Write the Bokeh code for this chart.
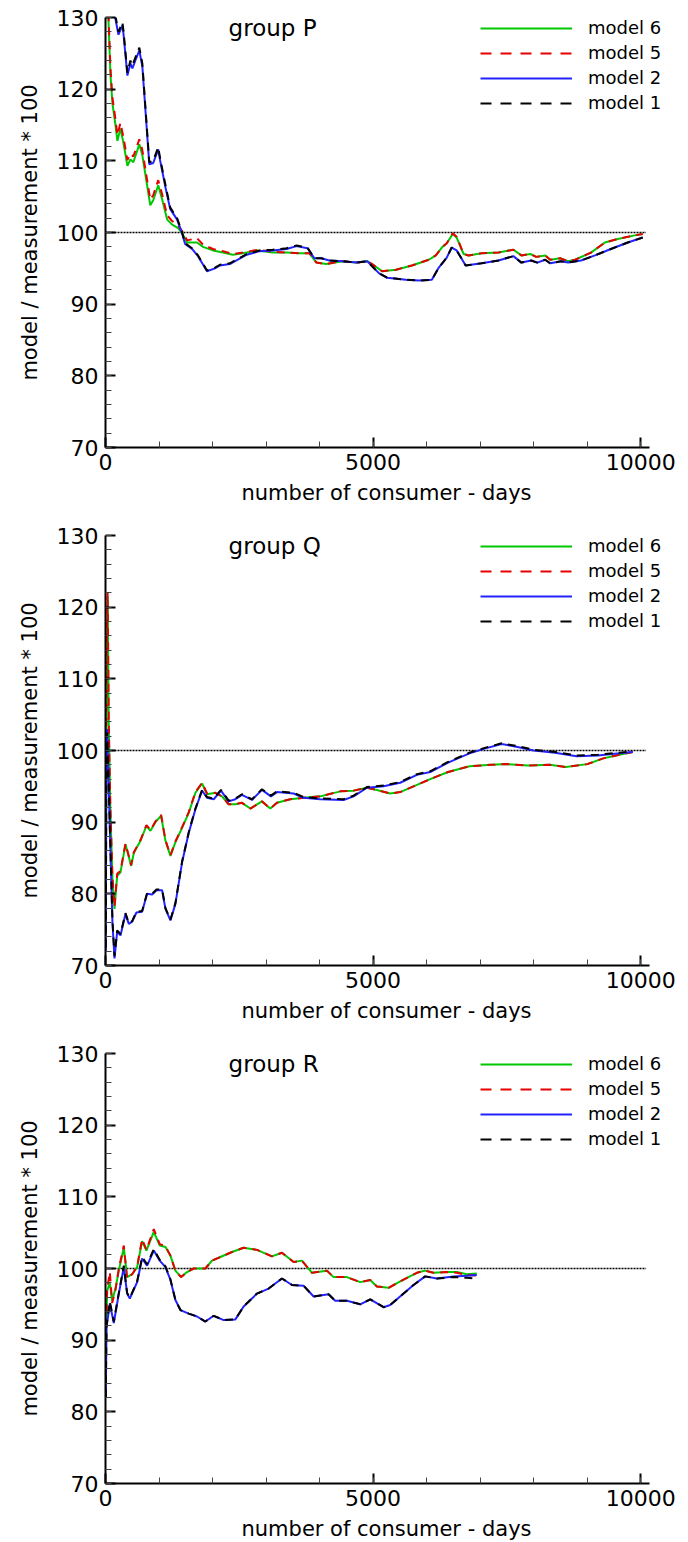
from bokeh.plotting import figure
from bokeh.models import Range1d, Legend, LegendItem, FixedTicker, Label
from bokeh.layouts import column
from bokeh.embed import file_html
from bokeh.resources import INLINE

# ---------------- data ----------------
LEGEND_LABELS = ["model 6", "model 5", "model 2", "model 1"]
GROUPS = ["group P", "group Q", "group R"]
X_TICKS = [0, 5000, 10000]
Y_TICKS = [70, 80, 90, 100, 110, 120, 130]
REF_X = [0, 10100]
REF_Y = [100, 100]

# group P
P_X56 = [20, 56, 93, 130, 186, 223, 279, 335, 409, 465, 520, 632, 688, 836, 892, 985,
         1059, 1152, 1245, 1357, 1431, 1524, 1710, 1822, 2007, 2193, 2379, 2565, 2844,
         3123, 3383, 3625, 3810, 3940, 4126, 4424, 4684, 4888, 5019, 5167, 5427, 5725,
         6041, 6171, 6283, 6376, 6487, 6561, 6691, 6784, 7026, 7342, 7621, 7770, 7937,
         8048, 8215, 8309, 8494, 8643, 8773, 9070, 9331, 9572, 9888, 10037]
P_M6 = [134.0, 129.5, 122.0, 118.0, 115.0, 112.8, 114.5, 112.5, 109.3, 110.2, 109.8, 112.3,
        110.8, 103.8, 104.5, 106.6, 104.6, 101.8, 101.1, 100.6, 99.9, 98.6, 98.6, 98.0,
        97.5, 97.2, 96.9, 97.1, 97.5, 97.2, 97.2, 97.1, 97.1, 95.8, 95.6, 96.0, 95.8, 96.0,
        95.4, 94.6, 94.8, 95.4, 96.2, 96.8, 97.9, 98.5, 99.8, 99.3, 97.0, 96.8, 97.1, 97.2,
        97.6, 96.8, 97.0, 96.6, 96.8, 96.2, 96.4, 96.0, 96.2, 97.2, 98.6, 99.1, 99.6, 99.8]
P_M5 = [134.5, 130.3, 122.8, 118.8, 115.8, 113.6, 115.3, 113.3, 110.1, 111.0, 110.6, 113.0,
        111.5, 104.6, 105.2, 107.3, 105.3, 102.4, 101.6, 101.0, 100.2, 98.9, 99.2, 98.3,
        97.7, 97.4, 97.0, 97.2, 97.6, 97.3, 97.2, 97.1, 97.1, 95.8, 95.6, 96.0, 95.8, 96.0,
        95.4, 94.6, 94.8, 95.4, 96.2, 96.8, 97.9, 98.5, 99.9, 99.4, 97.0, 96.8, 97.1, 97.2,
        97.6, 96.8, 97.0, 96.6, 96.8, 96.2, 96.4, 96.0, 96.2, 97.2, 98.6, 99.1, 99.6, 99.8]
P_X12 = [20, 100, 186, 242, 316, 335, 409, 465, 502, 558, 632, 688, 818, 892, 985, 1022,
         1115, 1208, 1338, 1431, 1487, 1617, 1729, 1896, 2045, 2138, 2323, 2472, 2639,
         2881, 3123, 3383, 3569, 3773, 3903, 4033, 4182, 4424, 4684, 4888, 5112, 5260,
         5613, 5855, 6097, 6227, 6376, 6468, 6561, 6729, 7026, 7342, 7621, 7770, 7955,
         8067, 8215, 8309, 8513, 8643, 8885, 9145, 9442, 9758, 10037]
P_M2 = [135.5, 131.5, 129.8, 127.6, 128.9, 127.8, 121.9, 123.6, 122.9, 124.0, 125.4, 123.2,
        109.5, 109.7, 111.6, 110.0, 106.5, 103.3, 101.8, 99.9, 98.4, 97.7, 96.7, 94.6,
        95.0, 95.4, 95.6, 96.2, 96.9, 97.4, 97.5, 97.7, 98.1, 97.8, 96.4, 96.4, 96.1, 96.0,
        95.8, 96.0, 94.3, 93.7, 93.4, 93.3, 93.4, 95.1, 96.5, 97.9, 97.5, 95.4, 95.7, 96.1,
        96.7, 95.8, 96.1, 95.8, 96.2, 95.7, 96.0, 95.8, 96.1, 96.8, 97.7, 98.6, 99.3]
P_M1 = [136.0, 132.0, 130.2, 128.0, 129.3, 128.2, 122.3, 124.0, 123.3, 124.4, 125.8, 123.6,
        109.8, 110.0, 111.9, 110.3, 106.8, 103.5, 102.0, 100.0, 98.5, 97.8, 96.8, 94.7,
        95.1, 95.5, 95.7, 96.3, 97.0, 97.5, 97.6, 97.8, 98.2, 97.9, 96.4, 96.4, 96.1, 96.0,
        95.8, 96.0, 94.3, 93.7, 93.4, 93.3, 93.4, 95.1, 96.5, 97.9, 97.5, 95.4, 95.7, 96.1,
        96.7, 95.8, 96.1, 95.8, 96.2, 95.7, 96.0, 95.8, 96.1, 96.8, 97.7, 98.6, 99.3]

# group Q
Q_X56 = [5, 20, 40, 60, 90, 130, 168, 218, 280, 373, 417, 479, 529, 653, 765, 840, 933,
         1039, 1120, 1213, 1306, 1431, 1555, 1680, 1804, 1897, 2053, 2177, 2301, 2426,
         2550, 2706, 2923, 3079, 3203, 3452, 3701, 4012, 4386, 4635, 4884, 5070, 5319,
         5506, 5755, 6066, 6400, 6800, 7200, 7500, 7900, 8300, 8600, 9000, 9300, 9600, 9850]
Q_M6 = [80.0, 112.0, 121.5, 104.0, 92.0, 82.0, 77.9, 82.5, 83.0, 86.9, 85.7, 83.9, 85.7,
        87.4, 89.5, 88.8, 90.0, 90.9, 87.4, 85.3, 87.2, 89.2, 91.3, 94.1, 95.4, 93.9, 94.1,
        93.6, 92.5, 92.5, 92.7, 91.9, 92.9, 91.9, 92.7, 93.2, 93.4, 93.6, 94.3, 94.4, 94.8,
        94.5, 94.0, 94.2, 95.0, 96.0, 97.0, 97.8, 98.0, 98.1, 97.9, 98.0, 97.7, 98.1, 98.9,
        99.4, 99.8]
Q_M5 = [80.0, 112.5, 122.0, 104.5, 92.3, 82.3, 78.2, 82.8, 83.2, 87.0, 85.8, 84.0, 85.8,
        87.5, 89.6, 88.9, 90.1, 91.0, 87.5, 85.4, 87.3, 89.3, 91.4, 94.2, 95.5, 94.0, 94.1,
        93.6, 92.5, 92.5, 92.7, 91.9, 92.9, 91.9, 92.7, 93.2, 93.4, 93.6, 94.3, 94.4, 94.8,
        94.5, 94.0, 94.2, 95.0, 96.0, 97.0, 97.8, 98.0, 98.1, 97.9, 98.0, 97.7, 98.1, 98.9,
        99.4, 99.8]
Q_X12 = [5, 15, 31, 60, 93, 130, 168, 218, 280, 373, 436, 498, 578, 684, 777, 871, 952,
         1058, 1120, 1213, 1306, 1431, 1555, 1680, 1804, 1897, 2022, 2158, 2301, 2426,
         2550, 2737, 2923, 3091, 3203, 3515, 3701, 4012, 4448, 4635, 4884, 5195, 5506,
         5817, 6066, 6400, 6800, 7100, 7400, 7700, 8000, 8400, 8800, 9200, 9600, 9850]
Q_M2 = [72.0, 95.0, 103.0, 95.0, 85.7, 76.0, 71.0, 74.7, 74.2, 77.2, 75.8, 76.1, 77.4,
        77.5, 80.0, 79.9, 80.5, 80.5, 77.9, 76.3, 78.6, 84.4, 88.5, 91.8, 94.4, 93.4, 93.2,
        94.4, 92.9, 93.2, 93.8, 93.1, 94.5, 93.6, 94.2, 94.0, 93.4, 93.2, 93.1, 93.6, 94.8,
        95.0, 95.5, 96.6, 97.0, 98.3, 99.6, 100.3, 100.9, 100.5, 100.0, 99.7, 99.2, 99.3,
        99.6, 99.8]
Q_M1 = [72.5, 95.5, 102.5, 95.3, 86.0, 76.3, 71.3, 74.9, 74.4, 77.3, 75.9, 76.2, 77.5,
        77.6, 80.1, 80.0, 80.6, 80.6, 78.0, 76.4, 78.7, 84.5, 88.6, 91.9, 94.5, 93.5, 93.3,
        94.5, 93.0, 93.3, 93.9, 93.2, 94.6, 93.7, 94.3, 94.1, 93.5, 93.3, 93.2, 93.7, 94.9,
        95.1, 95.6, 96.7, 97.1, 98.4, 99.7, 100.4, 101.0, 100.6, 100.1, 99.8, 99.3, 99.4,
        99.7, 99.9]

# group R
R_X56 = [5, 31, 81, 124, 186, 249, 342, 404, 498, 591, 684, 765, 902, 1014, 1120, 1213,
         1306, 1412, 1524, 1648, 1866, 1990, 2146, 2364, 2581, 2830, 3110, 3297, 3515,
         3670, 3857, 4137, 4261, 4510, 4759, 4946, 5070, 5288, 5506, 5817, 5973, 6128,
         6377, 6564, 6750, 6937]
R_M6 = [88.0, 96.9, 98.0, 95.5, 97.2, 99.7, 102.9, 98.8, 99.2, 100.2, 103.8, 102.5, 105.1,
        103.2, 103.0, 101.8, 99.7, 98.8, 99.5, 100.0, 100.0, 101.1, 101.6, 102.3, 102.9,
        102.6, 101.7, 102.2, 100.9, 101.1, 99.4, 99.7, 98.8, 98.8, 98.1, 98.4, 97.5, 97.3,
        98.2, 99.4, 99.7, 99.4, 99.5, 99.5, 99.2, 99.3]
R_M5 = [88.0, 97.2, 99.5, 95.2, 97.0, 100.0, 103.2, 98.6, 99.2, 100.3, 104.1, 102.6, 105.5,
        103.4, 103.1, 101.8, 99.7, 98.8, 99.5, 100.0, 100.0, 101.1, 101.6, 102.3, 102.9,
        102.6, 101.7, 102.2, 100.9, 101.1, 99.4, 99.7, 98.8, 98.8, 98.1, 98.4, 97.5, 97.3,
        98.2, 99.4, 99.7, 99.4, 99.5, 99.4, 99.1, 99.0]
R_X12 = [5, 19, 81, 155, 249, 342, 404, 454, 591, 684, 777, 902, 1014, 1120, 1213, 1306,
         1400, 1555, 1710, 1866, 2022, 2208, 2426, 2581, 2830, 3048, 3297, 3484, 3701,
         3888, 4168, 4292, 4510, 4759, 4946, 5195, 5319, 5537, 5755, 5973, 6190, 6501,
         6750, 6937]
R_M2 = [82.0, 91.8, 95.1, 92.4, 96.5, 100.2, 96.5, 95.8, 98.1, 101.4, 100.4, 102.5, 101.1,
        100.2, 98.4, 95.6, 94.2, 93.7, 93.3, 92.6, 93.4, 92.8, 92.9, 94.7, 96.5, 97.2, 98.6,
        97.7, 97.6, 96.1, 96.4, 95.5, 95.5, 95.0, 95.7, 94.6, 94.9, 96.3, 97.7, 98.9, 98.6,
        98.9, 99.0, 99.1]
R_M1 = [82.0, 92.0, 95.4, 92.6, 96.6, 100.4, 96.6, 95.9, 98.2, 101.6, 100.6, 102.7, 101.2,
        100.3, 98.5, 95.6, 94.2, 93.7, 93.3, 92.6, 93.4, 92.8, 92.9, 94.7, 96.5, 97.2, 98.6,
        97.7, 97.6, 96.1, 96.4, 95.5, 95.5, 95.0, 95.7, 94.6, 94.9, 96.3, 97.7, 98.9, 98.6,
        98.8, 98.7, 98.6]

# ---------------- styling ----------------
FONT = "DejaVu Sans"
GREEN = "#00c800"
RED = "#e60000"
BLUE = "#2222ff"
BLACK = "#000000"
COLORS = [GREEN, RED, BLUE, BLACK]
DASHES = ["solid", "8 6", "solid", "8 6"]
LEGEND_DASHES = ["solid", "11 9", "solid", "11 9"]
NAN = float("nan")


def make_panel(title, x56, m6, m5, x12, m2, m1, top, bottom):
    p = figure(frame_width=562, frame_height=430,
               x_range=Range1d(0, 10500), y_range=Range1d(70, 130),
               output_backend="svg", toolbar_location=None,
               min_border_left=105, min_border_right=19,
               min_border_top=top, min_border_bottom=bottom)
    p.outline_line_color = None
    p.xgrid.visible = False
    p.ygrid.visible = False
    p.background_fill_color = "white"

    p.line(REF_X, REF_Y, line_color="black", line_width=1.6, line_dash="2 1")

    series = [(x56, m6), (x56, m5), (x12, m2), (x12, m1)]
    for (xs, ys), c, d in zip(series, COLORS, DASHES):
        p.line(xs, ys, line_color=c, line_width=2, line_dash=d)

    dummies = []
    for c, d in zip(COLORS, LEGEND_DASHES):
        dummies.append(p.line([NAN], [NAN], line_color=c, line_width=2, line_dash=d))
    legend = Legend(items=[LegendItem(label=l, renderers=[r])
                           for l, r in zip(LEGEND_LABELS, dummies)],
                    location=(375, 334), orientation="vertical",
                    glyph_width=92, glyph_height=20, label_height=20,
                    label_standoff=16, spacing=4, padding=0, margin=0,
                    border_line_color=None, background_fill_alpha=0,
                    label_text_font=FONT, label_text_font_size="18px",
                    label_text_color="black")
    p.add_layout(legend)

    p.add_layout(Label(x=2300, y=128.6, text=title, text_font=FONT,
                       text_font_size="23px", text_baseline="alphabetic",
                       text_color="black"))

    for ax in (p.xaxis[0], p.yaxis[0]):
        ax.axis_line_width = 2
        ax.axis_line_color = "black"
        ax.major_tick_in = 10
        ax.major_tick_out = 0
        ax.minor_tick_in = 6
        ax.minor_tick_out = 0
        ax.major_tick_line_width = 2
        ax.minor_tick_line_width = 1
        ax.minor_tick_line_color = "#444444"
        ax.major_label_text_font = FONT
        ax.major_label_text_font_size = "22px"
        ax.major_label_text_color = "black"
        ax.axis_label_text_font = FONT
        ax.axis_label_text_font_size = "21px"
        ax.axis_label_text_font_style = "normal"
        ax.axis_label_text_color = "black"

    p.xaxis.bounds = (0, 10170)
    p.xaxis.ticker = FixedTicker(ticks=X_TICKS, minor_ticks=list(range(0, 10001, 1000)))
    p.yaxis.ticker = FixedTicker(ticks=Y_TICKS, minor_ticks=list(range(70, 131, 2)))
    p.xaxis.axis_label = "number of consumer - days"
    p.yaxis.axis_label = "model / measurement * 100"
    p.xaxis.major_label_standoff = 6
    p.xaxis.axis_label_standoff = 8
    p.yaxis.major_label_standoff = 7
    p.yaxis.axis_label_standoff = 12
    return p


p1 = make_panel(GROUPS[0], P_X56, P_M6, P_M5, P_X12, P_M2, P_M1, 17, 70)
p2 = make_panel(GROUPS[1], Q_X56, Q_M6, Q_M5, Q_X12, Q_M2, Q_M1, 18, 70)
p3 = make_panel(GROUPS[2], R_X56, R_M6, R_M5, R_X12, R_M2, R_M1, 18, 57)

layout = column(p1, p2, p3, spacing=0)
open("out.html", "w").write(file_html(layout, INLINE))
